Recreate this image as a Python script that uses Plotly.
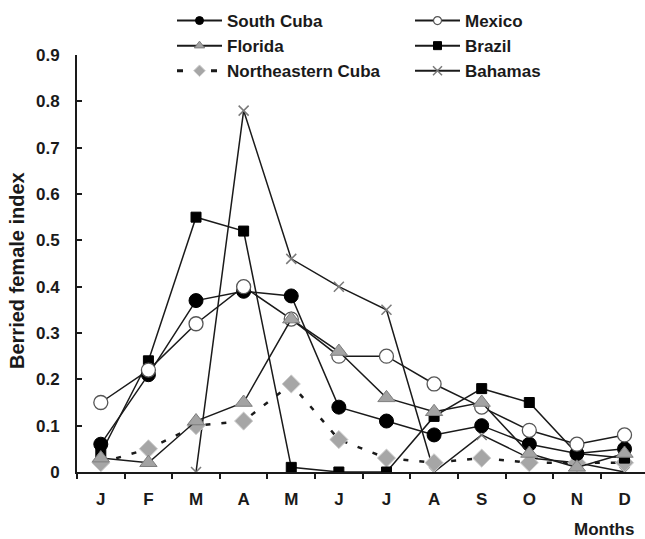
import plotly.graph_objects as go

months = ["J", "F", "M", "A", "M", "J", "J", "A", "S", "O", "N", "D"]
south_cuba = [0.06, 0.21, 0.37, 0.39, 0.38, 0.14, 0.11, 0.08, 0.10, 0.06, 0.04, 0.05]
mexico = [0.15, 0.22, 0.32, 0.40, 0.33, 0.25, 0.25, 0.19, 0.14, 0.09, 0.06, 0.08]
florida = [0.03, 0.02, 0.11, 0.15, 0.33, 0.26, 0.16, 0.13, 0.15, 0.04, 0.01, 0.04]
brazil = [0.04, 0.24, 0.55, 0.52, 0.01, 0.00, 0.00, 0.12, 0.18, 0.15, 0.04, 0.03]
ne_cuba = [0.02, 0.05, 0.10, 0.11, 0.19, 0.07, 0.03, 0.02, 0.03, 0.02, 0.02, 0.02]
bahamas = [None, None, 0.00, 0.78, 0.46, 0.40, 0.35, 0.00, 0.08, 0.03, 0.02, 0.00]

x = list(range(len(months)))
FONT = "Liberation Sans, Arial, sans-serif"
INK = "#1a1a1a"

styles = {
    "Bahamas": dict(line=dict(color=INK, width=1.5),
                    marker=dict(symbol="x-thin", size=10, line=dict(color="#7a7a7a", width=1.5))),
    "Northeastern Cuba": dict(line=dict(color=INK, width=2.5, dash="5px,11px"),
                              marker=dict(symbol="diamond", size=14, color="#a6a6a6", line=dict(color="#cfcfcf", width=1))),
    "Brazil": dict(line=dict(color=INK, width=1.5),
                   marker=dict(symbol="square", size=10, color="#000000", line=dict(color="#000", width=1))),
    "South Cuba": dict(line=dict(color=INK, width=1.5),
                       marker=dict(symbol="circle", size=14, color="#000000", line=dict(color="#000", width=1))),
    "Mexico": dict(line=dict(color=INK, width=1.5),
                   marker=dict(symbol="circle", size=14, color="#ffffff", line=dict(color="#555555", width=1.3))),
    "Florida": dict(line=dict(color=INK, width=1.5),
                    marker=dict(symbol="triangle-up", size=15, color="#a3a3a3", line=dict(color="#7d7d7d", width=1))),
}
series = [("Bahamas", bahamas), ("Northeastern Cuba", ne_cuba), ("Brazil", brazil),
          ("South Cuba", south_cuba), ("Mexico", mexico), ("Florida", florida)]

fig = go.Figure()
for name, vals in series:
    st = styles[name]
    fig.add_trace(go.Scatter(x=x, y=vals, name=name, mode="lines+markers", showlegend=False,
                             line=st["line"], marker=st["marker"], connectgaps=False))

# legend entries (smaller symbols, like the reference key)
legend_items = [
    ("South Cuba", "legend", 1, dict(symbol="circle", size=8, color="#000", line=dict(color="#000", width=1)), None),
    ("Florida", "legend", 2, dict(symbol="triangle-up", size=9, color="#a3a3a3", line=dict(color="#7d7d7d", width=1)), None),
    ("Northeastern Cuba", "legend", 3, dict(symbol="diamond", size=9, color="#a6a6a6", line=dict(color="#cfcfcf", width=1)), "6px,28px"),
    ("Mexico", "legend2", 1, dict(symbol="circle", size=8, color="#fff", line=dict(color="#555", width=1.2)), None),
    ("Brazil", "legend2", 2, dict(symbol="square", size=8, color="#000", line=dict(color="#000", width=1)), None),
    ("Bahamas", "legend2", 3, dict(symbol="x-thin", size=9, line=dict(color="#7a7a7a", width=1.5)), None),
]
for name, lg, rank, mk, dash in legend_items:
    fig.add_trace(go.Scatter(x=[None], y=[None], name=name, mode="lines+markers", legend=lg, legendrank=rank,
                             line=dict(color=INK, width=3 if dash else 2, dash=dash or "solid"),
                             marker=mk, showlegend=True))

legend_common = dict(
    xref="container", yref="container", xanchor="left", yanchor="top",
    orientation="v", bgcolor="rgba(0,0,0,0)", borderwidth=0,
    font=dict(family=FONT, size=17, color=INK, weight="bold"),
    tracegroupgap=0, traceorder="normal", itemwidth=45,
)

fig.update_layout(
    width=645, height=539,
    margin=dict(l=77, r=0, t=55, b=67, autoexpand=False),
    paper_bgcolor="white", plot_bgcolor="white",
    font=dict(family=FONT, color=INK),
    legend=dict(x=172 / 645, y=1 - 3 / 539, **legend_common),
    legend2=dict(x=410 / 645, y=1 - 3 / 539, **legend_common),
    showlegend=True,
)

fig.update_xaxes(
    range=[-0.5, 11.43], tickmode="array", tickvals=x, ticktext=months,
    ticks="", showgrid=False, zeroline=False, automargin=False,
    showline=True, linecolor=INK, linewidth=2,
    tickfont=dict(family=FONT, size=17, color=INK, weight="bold"),
    ticklabelstandoff=11,
    minor=dict(ticks="outside", tick0=0.5, dtick=1, ticklen=5, tickwidth=1.5, tickcolor=INK, showgrid=False),
)
fig.update_yaxes(
    range=[0, 0.9], dtick=0.1, tick0=0, automargin=False,
    ticks="inside", ticklen=5, tickwidth=1.5, tickcolor=INK,
    showgrid=False, zeroline=False,
    showline=True, linecolor=INK, linewidth=2,
    tickfont=dict(family=FONT, size=17, color=INK, weight="bold"),
    ticklabelstandoff=12,
)

fig.add_annotation(
    text="Berried female index", xref="paper", yref="paper",
    x=(17 - 77) / 568, y=(472 - 271) / 417, xanchor="center", yanchor="middle",
    textangle=-90, showarrow=False,
    font=dict(family=FONT, size=20, color=INK, weight="bold"),
)
fig.add_annotation(
    text="Months", xref="paper", yref="paper", x=(636 - 77) / 568, y=(472 - 529) / 417,
    xanchor="right", yanchor="middle", showarrow=False,
    font=dict(family=FONT, size=17, color=INK, weight="bold"),
)

fig.write_html("out.html")
